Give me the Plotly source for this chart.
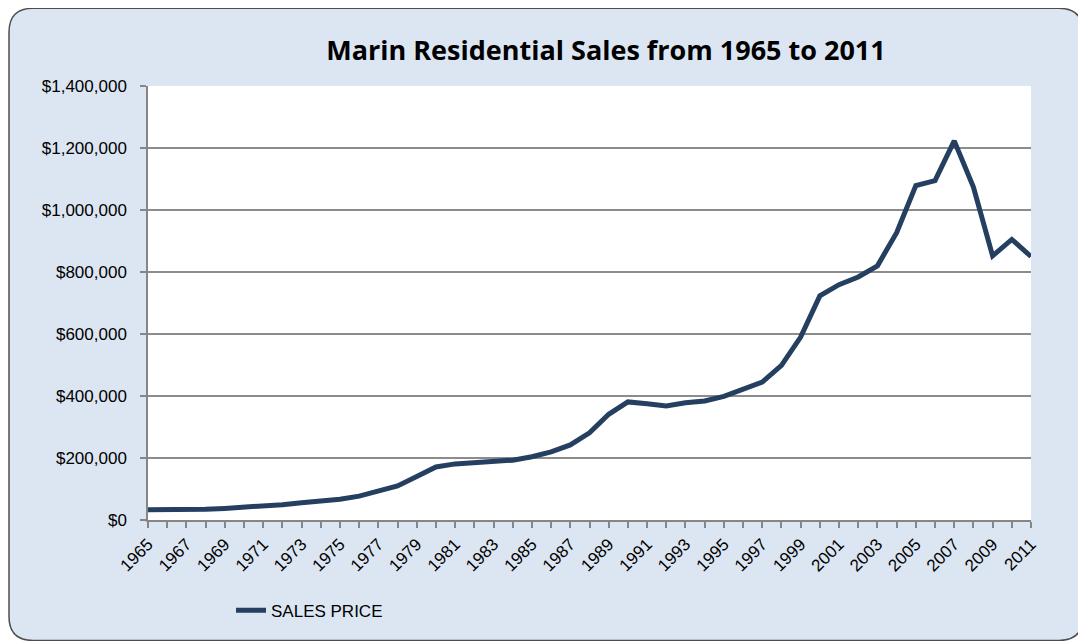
import plotly.graph_objects as go

years = list(range(1965, 2012))
sales_price = [
    33000, 33000, 33500, 34500, 37500, 40500, 44000, 49500, 55500, 61000,
    67000, 77000, 94000, 110000, 140000, 171000, 181000, 186000, 189000, 193000,
    204000, 220000, 242000, 281000, 341000, 381000, 375000, 368000, 378000, 384000,
    399000, 420000, 445000, 499000, 590000, 723000, 759000, 784000, 820000, 927000,
    1079000, 1095000, 1223000, 1074000, 852000, 905000, 850000,
]
tick_labels = [str(y) if (y - 1965) % 2 == 0 else "" for y in years]
y_ticks = [0, 200000, 400000, 600000, 800000, 1000000, 1200000, 1400000]

OFF = 8  # default body margin of the html page
W, H = 1086 - OFF, 641 - OFF
L, R, T, B = 148 - OFF, 1031 - OFF, 86 - OFF, 522 - OFF
pw, ph = R - L, B - T

def px(x):  # page pixel -> paper
    return (x - OFF - L) / pw

def py(y):
    return (B - (y - OFF)) / ph

fig = go.Figure()
fig.add_trace(go.Scatter(
    x=years, y=sales_price, mode="lines", name="SALES PRICE",
    line=dict(color="#253F61", width=5),
))

# rounded border of the chart area
x0, x1, y0, y1, r = 9, 1083, 8, 643, 24
rx, ry = r / pw, r / ph
X0, X1, Y0, Y1 = px(x0), px(x1), py(y0), py(y1)
path = (f"M {X0+rx},{Y0} L {X1-rx},{Y0} Q {X1},{Y0} {X1},{Y0-ry} "
        f"L {X1},{Y1+ry} Q {X1},{Y1} {X1-rx},{Y1} L {X0+rx},{Y1} "
        f"Q {X0},{Y1} {X0},{Y1+ry} L {X0},{Y0-ry} Q {X0},{Y0} {X0+rx},{Y0} Z")
fig.add_shape(type="path", path=path, xref="paper", yref="paper",
              fillcolor="#DCE6F2", line=dict(color="#4D4D4D", width=1.5), layer="below")
fig.add_shape(type="rect", x0=0, x1=1, y0=0, y1=1, xref="paper", yref="paper",
              fillcolor="white", line=dict(width=0), layer="below")

axis_font = dict(family="Liberation Sans, Arial, sans-serif", size=17, color="black")

fig.update_layout(
    width=W, height=H,
    margin=dict(l=L, r=W - R, t=T, b=H - B, pad=0),
    paper_bgcolor="white", plot_bgcolor="white",
    title=dict(text="<b>Marin Residential Sales from 1965 to 2011</b>",
               font=dict(family="Open Sans, sans-serif", size=27, color="black"),
               x=px(606), xref="paper", xanchor="center",
               y=1 - (51 - OFF) / H, yref="container", yanchor="middle"),
    showlegend=True,
    legend=dict(orientation="h", x=px(231), y=py(613), xanchor="left", yanchor="middle",
                bgcolor="rgba(0,0,0,0)", font=axis_font),
    xaxis=dict(
        range=[1965, 2011], tickmode="array", tickvals=years, ticktext=tick_labels,
        tickangle=-45, ticks="outside", ticklen=6, tickcolor="#868686", tickwidth=1.5,
        showline=True, linecolor="#868686", linewidth=1.5, showgrid=False,
        tickfont=axis_font, zeroline=False,
    ),
    yaxis=dict(
        range=[0, 1400000], tickmode="array", tickvals=y_ticks, tickformat="$,.0f",
        ticks="outside", ticklen=6, tickcolor="#868686", tickwidth=1.5,
        showline=True, linecolor="#868686", linewidth=1.5, ticklabelstandoff=10,
        showgrid=True, gridcolor="#8C8C8C", gridwidth=1.5, zeroline=False,
        tickfont=axis_font,
    ),
)

fig.write_html("out.html")
